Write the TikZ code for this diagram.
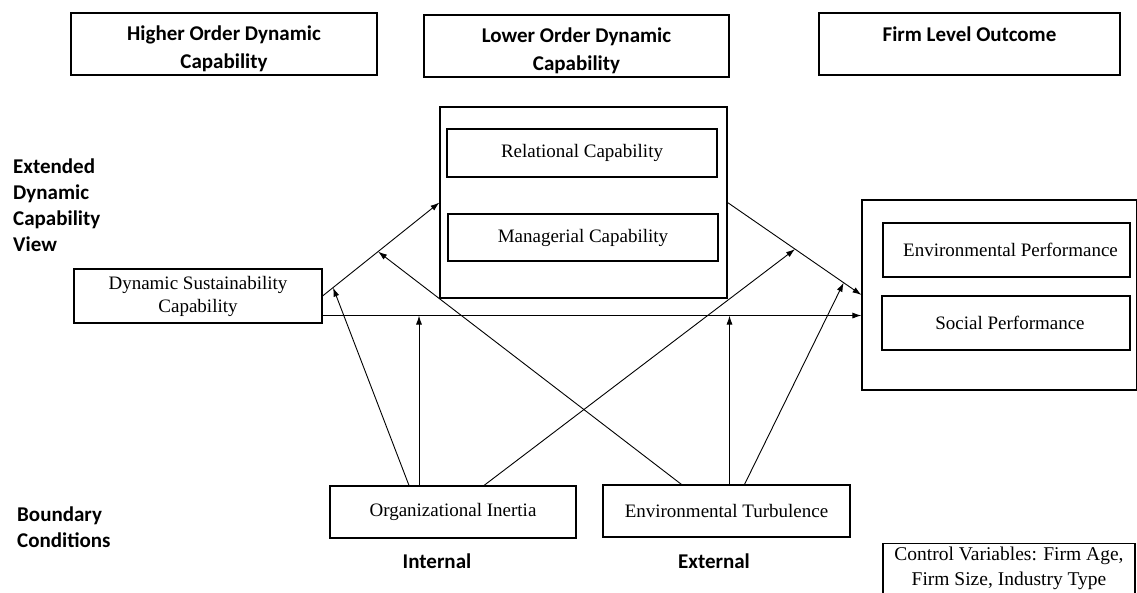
\documentclass[tikz,border=0pt]{standalone}
\usepackage{fontspec}
\setmainfont{Liberation Serif}
\newfontfamily\headfont{Carlito}
\usetikzlibrary{arrows.meta}

\begin{document}
\begin{tikzpicture}[x=1pt, y=-1pt,
  box/.style={draw, line width=1.1pt, align=center, inner sep=2pt,
              font=\fontsize{19}{23}\selectfont},
  head/.style={box, font=\headfont\bfseries\fontsize{21}{28}\selectfont},
  side/.style={align=left, anchor=west, inner sep=0pt,
               font=\headfont\bfseries\fontsize{21}{26}\selectfont},
  group/.style={draw, line width=1.1pt},
  link/.style={-{Latex[length=9pt,width=6pt]}, line width=0.9pt},
]
  \clip (0,0) rectangle (1137,593);

  \node[head, minimum width=306pt, minimum height=62pt] (higher) at (224,44)    {\rule{0pt}{24pt}Higher Order Dynamic\\Capability};
  \node[head, minimum width=305pt, minimum height=62pt] (lower)  at (576.5,46)  {\rule{0pt}{24pt}Lower Order Dynamic\\Capability};
  \node[head, minimum width=301pt, minimum height=62pt] (firm)   at (969.5,44)  {\rule{0pt}{24pt}Firm Level Outcome\\\mbox{}};

  \node[side] (extended) at (13,205) {Extended\\Dynamic\\Capability\\View};
  \node[side] (boundary) at (17,527) {Boundary\\Conditions};

  \node[group, minimum width=287pt, minimum height=191pt] (lowerbox) at (583.5,202.5) {};
  \node[box, minimum width=270pt, minimum height=48pt] (relational) at (582,153)   {Relational Capability};
  \node[box, minimum width=270pt, minimum height=47pt] (managerial) at (583,237.5) {Managerial Capability};

  \node[box, minimum width=248pt, minimum height=54pt] (dsc) at (198,296) {Dynamic Sustainability\\Capability};

  \node[group, minimum width=275pt, minimum height=190pt] (perfbox) at (999.5,295) {};
  \node[box, minimum width=247pt, minimum height=54pt] (envperf)    at (1006.5,250) {\hspace*{8pt}Environmental Performance};
  \node[box, minimum width=248pt, minimum height=54pt] (socialperf) at (1006,323)   {\hspace*{8pt}Social Performance};

  \node[box, minimum width=246pt, minimum height=52pt] (inertia) at (453,512)   {Organizational Inertia};
  \node[box, minimum width=247pt, minimum height=52pt] (turb)    at (726.5,511) {Environmental Turbulence};

  \node[side, anchor=center] (internal) at (437,561) {Internal};
  \node[side, anchor=center] (external) at (714,561) {External};

  \node[box, anchor=north, minimum width=252pt, inner ysep=3pt,
        font=\fontsize{19.5}{25}\selectfont] (control) at (1009,543)
        {Control Variables: Firm Age,\\Firm Size, Industry Type\\\mbox{}};

  \draw[link] (dsc.east) -- (lowerbox.west)
    coordinate[pos=0.09] (dscA) coordinate[pos=0.475] (dscB);
  \draw[link] (lowerbox.east) -- (perfbox.west)
    coordinate[pos=0.504] (lowA) coordinate[pos=0.867] (lowB);
  \coordinate (hstart) at ([yshift=8pt]dsc.south east);
  \draw[link] (hstart) -- (hstart -| perfbox.west);

  \coordinate (inA) at ([xshift=-44pt]inertia.north);
  \coordinate (inB) at ([xshift=-34pt]inertia.north);
  \coordinate (inC) at ([xshift=31pt]inertia.north);
  \coordinate (tuA) at ([xshift=-45pt]turb.north);
  \coordinate (tuB) at ([xshift=3pt]turb.north);
  \coordinate (tuC) at ([xshift=18pt]turb.north);

  \draw[link] (inA) -- (dscA);
  \draw[link] (inB) -- (inB |- hstart);
  \draw[link] (inC) -- (lowA);
  \draw[link] (tuA) -- (dscB);
  \draw[link] (tuB) -- (tuB |- hstart);
  \draw[link] (tuC) -- (lowB);
\end{tikzpicture}
\end{document}
